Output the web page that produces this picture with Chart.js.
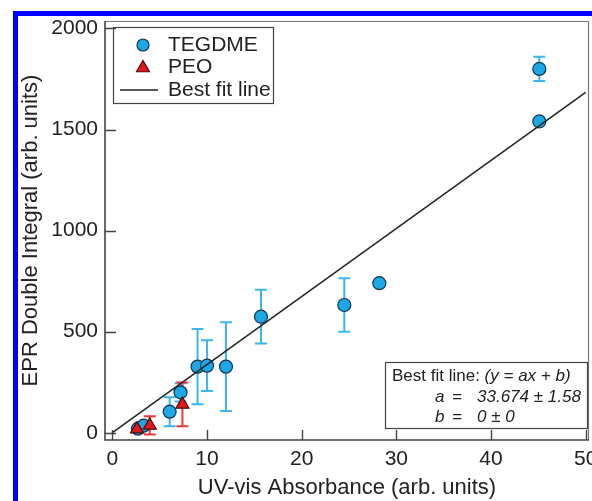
<!DOCTYPE html>
<html>
<head>
<meta charset="utf-8">
<script src="https://cdn.jsdelivr.net/npm/chart.js@4/dist/chart.umd.min.js"></script>
<style>
  html, body { margin: 0; padding: 0; background: #fff; }
  #c { display: block; }
</style>
</head>
<body>
<canvas id="c" width="592" height="501"></canvas>
<script>
// ---- data ----
const tegdmeX   = [2.7, 3.3, 6.05, 7.2, 9.0, 10.0, 12.0, 15.7, 24.5, 28.2, 45.1, 45.1];
const tegdmeY   = [20, 35, 104, 200, 327, 332, 327, 574, 632, 740, 1540, 1800];
const tegdmeErr = [0, 0, 72, 45, 186, 125, 219, 133, 132, 0, 0, 60];

const peoX   = [2.6, 3.95, 7.4];
const peoY   = [18, 36, 140];
const peoErr = [0, 45, 108];

const fitX = [0, 50];
const fitY = [0, 1683.7];

const xTicks = [0, 10, 20, 30, 40, 50];
const yTicks = [0, 500, 1000, 1500, 2000];

const xTitle = 'UV-vis Absorbance (arb. units)';
const yTitle = 'EPR Double Integral (arb. units)';
const legendLabels = ['TEGDME', 'PEO', 'Best fit line'];
const fitLabel = 'Best fit line:';
const fitEq = '(y = ax + b)';
const fitA = '33.674 \u00b1 1.58';
const fitB = '0 \u00b1 0';

// ---- styles ----
const FONT = '"Liberation Sans", Arial, Helvetica, sans-serif';
const BLUE_FILL = '#1ca8e4';
const BLUE_EDGE = '#0f3555';
const BLUE_ERR = '#3db6ec';
const RED_FILL = '#e3161b';
const RED_EDGE = '#4a0a0a';
const RED_ERR = '#e8383c';
const TEXT = '#222';

const toPts = (xs, ys) => xs.map((x, i) => ({ x: x, y: ys[i] }));

const bgPlugin = {
  id: 'bg',
  beforeDraw(chart) {
    const ctx = chart.ctx;
    ctx.save();
    ctx.fillStyle = '#fff';
    ctx.fillRect(0, 0, chart.width, chart.height);
    ctx.fillStyle = '#0000ff';
    ctx.fillRect(13, 11, chart.width - 13, 5);
    ctx.fillRect(13, 11, 5, chart.height - 11);
    ctx.restore();
  }
};

const errPlugin = {
  id: 'errbars',
  beforeDatasetsDraw(chart) {
    const ctx = chart.ctx;
    const xs = chart.scales.x, ys = chart.scales.y;
    const draw = (X, Y, E, col) => {
      ctx.strokeStyle = col;
      ctx.lineWidth = 2;
      X.forEach((x, i) => {
        if (!E[i]) return;
        const px = xs.getPixelForValue(x);
        const p1 = ys.getPixelForValue(Y[i] + E[i]);
        const p2 = ys.getPixelForValue(Y[i] - E[i]);
        ctx.beginPath();
        ctx.moveTo(px, p1); ctx.lineTo(px, p2);
        ctx.moveTo(px - 6, p1); ctx.lineTo(px + 6, p1);
        ctx.moveTo(px - 6, p2); ctx.lineTo(px + 6, p2);
        ctx.stroke();
      });
    };
    ctx.save();
    draw(tegdmeX, tegdmeY, tegdmeErr, BLUE_ERR);
    draw(peoX, peoY, peoErr, RED_ERR);
    ctx.restore();
  }
};

const framePlugin = {
  id: 'frame',
  afterDraw(chart) {
    const ctx = chart.ctx;
    const a = chart.chartArea;
    const xs = chart.scales.x, ys = chart.scales.y;
    ctx.save();
    // top/right frame
    ctx.strokeStyle = '#777';
    ctx.lineWidth = 1.2;
    ctx.beginPath();
    ctx.moveTo(a.left, a.top + 0.5); ctx.lineTo(a.right - 0.5, a.top + 0.5); ctx.lineTo(a.right - 0.5, a.bottom);
    ctx.stroke();
    // axes
    ctx.strokeStyle = '#444';
    ctx.lineWidth = 1.6;
    ctx.beginPath();
    ctx.moveTo(a.left, a.top); ctx.lineTo(a.left, a.bottom); ctx.lineTo(a.right, a.bottom);
    ctx.stroke();
    // inward ticks
    ctx.lineWidth = 1.4;
    ctx.beginPath();
    xTicks.forEach(v => {
      const px = Math.round(xs.getPixelForValue(v)) + 0.5;
      ctx.moveTo(px, a.bottom); ctx.lineTo(px, a.bottom - 10);
    });
    yTicks.forEach(v => {
      const py = Math.round(ys.getPixelForValue(v)) + 0.5;
      ctx.moveTo(a.left, py); ctx.lineTo(a.left + 11, py);
    });
    ctx.stroke();

    // legend box
    ctx.strokeStyle = '#444';
    ctx.lineWidth = 1.2;
    ctx.strokeRect(113.5, 27.5, 160, 76);
    ctx.fillStyle = BLUE_FILL; ctx.strokeStyle = BLUE_EDGE; ctx.lineWidth = 1.2;
    Chart.helpers.drawPoint(ctx, { pointStyle: 'circle', radius: 6, rotation: 0, borderWidth: 1.2 }, 143, 45);
    ctx.fillStyle = RED_FILL; ctx.strokeStyle = RED_EDGE;
    Chart.helpers.drawPoint(ctx, { pointStyle: 'triangle', radius: 7.5, rotation: 0, borderWidth: 1.2 }, 143, 68);
    ctx.strokeStyle = '#222'; ctx.lineWidth = 1.5;
    ctx.beginPath(); ctx.moveTo(120, 90); ctx.lineTo(158, 90); ctx.stroke();
    ctx.fillStyle = TEXT;
    ctx.font = '21px ' + FONT;
    ctx.textBaseline = 'middle';
    ctx.textAlign = 'left';
    ctx.fillText(legendLabels[0], 168, 45);
    ctx.fillText(legendLabels[1], 168, 67);
    ctx.fillText(legendLabels[2], 168, 90);

    // fit annotation box
    ctx.fillStyle = '#fff';
    ctx.fillRect(385.5, 362.5, 202, 66);
    ctx.strokeStyle = '#444'; ctx.lineWidth = 1.2;
    ctx.strokeRect(385.5, 362.5, 202, 66);
    ctx.fillStyle = TEXT;
    ctx.font = '17px ' + FONT;
    ctx.fillText(fitLabel, 392, 376);
    const w = ctx.measureText(fitLabel + ' ').width;
    ctx.font = 'italic 17px ' + FONT;
    ctx.fillText(fitEq, 392 + w, 376);
    ctx.fillText('a', 435, 397);
    ctx.fillText('=', 452, 397);
    ctx.fillText(fitA, 477, 397);
    ctx.fillText('b', 435, 417);
    ctx.fillText('=', 452, 417);
    ctx.fillText(fitB, 477, 417);
    ctx.restore();
  }
};

const ctx = document.getElementById('c').getContext('2d');
new Chart(ctx, {
  type: 'scatter',
  data: {
    datasets: [
      {
        label: legendLabels[0],
        data: toPts(tegdmeX, tegdmeY),
        pointStyle: 'circle',
        pointRadius: 6.5,
        backgroundColor: BLUE_FILL,
        borderColor: BLUE_EDGE,
        borderWidth: 1.2,
        order: 3
      },
      {
        label: legendLabels[1],
        data: toPts(peoX, peoY),
        pointStyle: 'triangle',
        pointRadius: 7.5,
        backgroundColor: RED_FILL,
        borderColor: RED_EDGE,
        borderWidth: 1.2,
        order: 2
      },
      {
        label: legendLabels[2],
        data: toPts(fitX, fitY),
        showLine: true,
        pointRadius: 0,
        borderColor: '#222',
        borderWidth: 1.5,
        fill: false,
        order: 1
      }
    ]
  },
  options: {
    responsive: false,
    animation: false,
    devicePixelRatio: 1,
    layout: { autoPadding: false, padding: { left: 18, top: 21, right: 3, bottom: 0 } },
    plugins: { legend: { display: false }, tooltip: { enabled: false } },
    scales: {
      x: {
        type: 'linear',
        min: -0.78,
        max: 50.35,
        afterBuildTicks: s => { s.ticks = xTicks.map(v => ({ value: v })); },
        afterFit: s => { s.height = 61; s.paddingLeft = 0; s.paddingRight = 0; },
        grid: { display: false, drawTicks: false },
        border: { display: false },
        ticks: { font: { family: FONT, size: 21 }, color: TEXT, padding: 7, maxRotation: 0, autoSkip: false,
                 callback: v => String(v) },
        title: { display: true, text: xTitle, font: { family: FONT, size: 22 }, color: TEXT, padding: 0 }
      },
      y: {
        type: 'linear',
        min: -36,
        max: 2037,
        afterBuildTicks: s => { s.ticks = yTicks.map(v => ({ value: v })); },
        afterFit: s => { s.width = 87; s.paddingTop = 0; s.paddingBottom = 0; },
        grid: { display: false, drawTicks: false },
        border: { display: false },
        ticks: { font: { family: FONT, size: 21 }, color: TEXT, padding: 7, autoSkip: false,
                 callback: v => String(v) },
        title: { display: true, text: yTitle, font: { family: FONT, size: 22 }, color: TEXT, padding: 0 }
      }
    }
  },
  plugins: [bgPlugin, errPlugin, framePlugin]
});
</script>
</body>
</html>
